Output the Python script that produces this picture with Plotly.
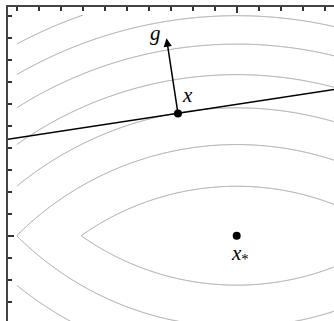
import numpy as np
import plotly.graph_objects as go

# ---- data ----
x_star = [10.0, 10.0]          # minimiser
x_point = [7.33, 4.44]         # current point x
g_vec = [-0.52, -3.41]         # subgradient g at x
penalty = 10.0                 # weight of the nonsmooth |v - 10| term
level_start, level_end, level_step = 50, 350, 50
tick_vals = list(range(15))
major_tick = 10

# ---- function whose level sets are drawn ----
u = np.linspace(0, 15, 601)
v = np.concatenate([np.linspace(-0.03, 10, 401), np.linspace(10, 14.5, 181)[1:]])
U, V = np.meshgrid(u, v)
W = V - x_star[1]
F = (U - x_star[0]) ** 2 + W ** 2 + 2 * penalty * np.abs(W)

fig = go.Figure()
fig.add_trace(go.Contour(
    x=u, y=v, z=F,
    contours=dict(start=level_start, end=level_end, size=level_step, coloring="lines"),
    colorscale=[[0, "#999999"], [1, "#999999"]],
    line=dict(width=1, smoothing=0),
    showscale=False, hoverinfo="skip",
))

# line through x perpendicular to g
d = np.array([g_vec[1], -g_vec[0]])
ts = np.array([-6.0, 6.0])
lx = x_point[0] + ts * d[0]
ly = x_point[1] + ts * d[1]
fig.add_trace(go.Scatter(x=lx, y=ly, mode="lines", line=dict(color="black", width=1.5),
                         hoverinfo="skip"))

fig.add_trace(go.Scatter(x=[x_point[0], x_star[0]], y=[x_point[1], x_star[1]], mode="markers",
                         marker=dict(color="black", size=8), hoverinfo="skip"))

tip = [x_point[0] + g_vec[0], x_point[1] + g_vec[1]]
fig.add_annotation(x=tip[0], y=tip[1], ax=x_point[0], ay=x_point[1], axref="x", ayref="y",
                   xref="x", yref="y", text="", showarrow=True, arrowhead=2, arrowsize=1.1,
                   arrowwidth=1.5, arrowcolor="black", standoff=0, startstandoff=0)

font = dict(family="Liberation Serif", size=21, color="black")
fig.add_annotation(x=tip[0], y=tip[1], text="<i>g</i>", showarrow=False, font=font,
                   xshift=-11, yshift=5)
fig.add_annotation(x=x_point[0], y=x_point[1], text="<i>x</i>", showarrow=False, font=font,
                   xshift=10, yshift=18)
fig.add_annotation(x=x_star[0], y=x_star[1], text="<i>x</i><sub>*</sub>", showarrow=False,
                   font=font, xshift=3, yshift=-18)

minor_vals = [t for t in tick_vals if t != major_tick]
axis_common = dict(showline=True, linecolor="#444", linewidth=1.5, showgrid=False,
                   zeroline=False, showticklabels=False, ticks="inside", tickvals=[major_tick],
                   ticklen=6, tickwidth=1.5, tickcolor="#333",
                   minor=dict(tickvals=minor_vals, ticks="inside", ticklen=4, tickwidth=1.5,
                              tickcolor="#333", showgrid=False))
fig.update_layout(
    width=334, height=321, margin=dict(l=8, t=7, r=0, b=0),
    paper_bgcolor="white", plot_bgcolor="white", showlegend=False,
    xaxis=dict(range=[-0.395, 14.423], side="top", **axis_common),
    yaxis=dict(range=[13.877, -0.395], **axis_common),
)
fig.write_html("out.html")
